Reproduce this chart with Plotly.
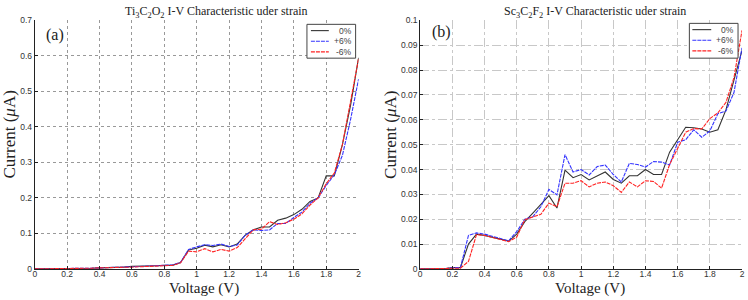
import plotly.graph_objects as go

voltage = [round(0.05 * i, 2) for i in range(41)]

# (a) Ti3C2O2
ti_0 = [0, 0, 0, 0, 0.001, 0.001, 0.002, 0.002, 0.003, 0.003, 0.004, 0.005,
        0.007, 0.007, 0.008, 0.009, 0.010, 0.010, 0.018, 0.053, 0.058, 0.067,
        0.062, 0.068, 0.062, 0.070, 0.095, 0.110, 0.118, 0.118, 0.137, 0.143,
        0.153, 0.168, 0.190, 0.200, 0.262, 0.262, 0.350, 0.460, 0.595]
ti_p6 = [0, 0, 0, 0, 0.001, 0.001, 0.002, 0.002, 0.003, 0.003, 0.004, 0.005,
         0.006, 0.007, 0.008, 0.010, 0.011, 0.011, 0.018, 0.055, 0.062, 0.068,
         0.066, 0.070, 0.063, 0.067, 0.095, 0.110, 0.108, 0.110, 0.128, 0.128,
         0.145, 0.160, 0.185, 0.200, 0.235, 0.265, 0.320, 0.420, 0.535]
ti_m6 = [0, 0, 0, 0, 0.001, 0.002, 0.002, 0.002, 0.003, 0.003, 0.003, 0.004,
         0.005, 0.006, 0.007, 0.008, 0.009, 0.010, 0.017, 0.050, 0.048, 0.057,
         0.048, 0.055, 0.050, 0.060, 0.085, 0.110, 0.112, 0.133, 0.125, 0.130,
         0.140, 0.155, 0.180, 0.200, 0.240, 0.270, 0.350, 0.470, 0.593]

# (b) Sc3C2F2
sc_0 = [0, 0, 0, 0, 0.0005, 0.0005, 0.0100, 0.0140, 0.0135, 0.0128, 0.0120,
        0.0112, 0.0140, 0.0190, 0.0225, 0.0260, 0.0295, 0.0245, 0.0398, 0.0367,
        0.0380, 0.0358, 0.0375, 0.0390, 0.0360, 0.0345, 0.0375, 0.0375, 0.0400,
        0.0380, 0.0380, 0.0470, 0.0520, 0.0570, 0.0568, 0.0563, 0.0550, 0.0560,
        0.0640, 0.0760, 0.0880]
sc_p6 = [0, 0, 0, 0, 0.0005, 0.0005, 0.0135, 0.0145, 0.0140, 0.0132, 0.0122,
         0.0113, 0.0150, 0.0200, 0.0210, 0.0250, 0.0320, 0.0298, 0.0460, 0.0390,
         0.0400, 0.0378, 0.0412, 0.0418, 0.0380, 0.0350, 0.0425, 0.0420, 0.0410,
         0.0432, 0.0430, 0.0418, 0.0510, 0.0520, 0.0560, 0.0530, 0.0555, 0.0625,
         0.0635, 0.0710, 0.0890]
sc_m6 = [0, 0, 0, 0, 0.0003, 0.0003, 0.0030, 0.0138, 0.0135, 0.0128, 0.0118,
         0.0110, 0.0128, 0.0198, 0.0208, 0.0220, 0.0265, 0.0250, 0.0345, 0.0345,
         0.0355, 0.0330, 0.0345, 0.0350, 0.0335, 0.0308, 0.0350, 0.0330, 0.0355,
         0.0352, 0.0325, 0.0420, 0.0485, 0.0550, 0.0565, 0.0563, 0.0605, 0.0628,
         0.0670, 0.0770, 0.0960]

names = ["0%", "+6%", "-6%"]
colors = ["#333333", "#3333ff", "#ff2222"]
dashes = ["solid", "4px,1px", "4px,1px"]

x_ticks = [0, 0.2, 0.4, 0.6, 0.8, 1, 1.2, 1.4, 1.6, 1.8, 2]
x_ticktext = ["0", "0.2", "0.4", "0.6", "0.8", "1", "1.2", "1.4", "1.6", "1.8", "2"]
ya_ticks = [0, 0.1, 0.2, 0.3, 0.4, 0.5, 0.6, 0.7]
ya_text = ["0", "0.1", "0.2", "0.3", "0.4", "0.5", "0.6", "0.7"]
yb_ticks = [0, 0.01, 0.02, 0.03, 0.04, 0.05, 0.06, 0.07, 0.08, 0.09, 0.1]
yb_text = ["0", "0.01", "0.02", "0.03", "0.04", "0.05", "0.06", "0.07", "0.08", "0.09", "0.1"]

W, H = 748, 300
def px(v):
    return v / W
def py(v):
    return 1 - v / H

fig = go.Figure()
for ys, n, c, d in zip([ti_0, ti_p6, ti_m6], names, colors, dashes):
    fig.add_trace(go.Scatter(x=voltage, y=ys, name=n, mode="lines",
                             line=dict(color=c, width=1.1, dash=d),
                             xaxis="x", yaxis="y", showlegend=False))
for ys, n, c, d in zip([sc_0, sc_p6, sc_m6], names, colors, dashes):
    fig.add_trace(go.Scatter(x=voltage, y=ys, name=n, mode="lines",
                             line=dict(color=c, width=1.1, dash=d),
                             xaxis="x2", yaxis="y2", showlegend=False))

tickfont = dict(family="Liberation Sans, Arial", size=8.5, color="#333")
common_x = dict(range=[0, 2], tickvals=x_ticks, ticktext=x_ticktext, tickfont=tickfont,
                showline=True, linecolor="#222", linewidth=1, ticks="inside", ticklen=3,
                tickcolor="#222", zeroline=False, mirror=False, ticklabelstandoff=-3)
fig.update_layout(
    width=W, height=H,
    margin=dict(l=0, r=0, t=0, b=0),
    paper_bgcolor="white", plot_bgcolor="white",
    showlegend=False,
    xaxis=dict(domain=[px(33), px(359)], anchor="y", showgrid=True, gridcolor="#999",
               griddash="dot", gridwidth=1, **common_x),
    yaxis=dict(domain=[py(273), py(16)], anchor="x", range=[0, 0.7], tickvals=ya_ticks,
               ticktext=ya_text, tickfont=tickfont, showline=True, linecolor="#222",
               linewidth=1, ticks="inside", ticklen=3, tickcolor="#222", zeroline=False,
               showgrid=True, gridcolor="#999", griddash="dot", gridwidth=1),
    xaxis2=dict(domain=[px(421), px(745)], anchor="y2", showgrid=True, gridcolor="#c8c8c8",
                griddash="dashdot", gridwidth=1, **common_x),
    yaxis2=dict(domain=[py(273), py(16)], anchor="x2", range=[0, 0.1], tickvals=yb_ticks,
                ticktext=yb_text, tickfont=tickfont, showline=True, linecolor="#222",
                linewidth=1, ticks="inside", ticklen=3, tickcolor="#222", zeroline=False,
                showgrid=True, gridcolor="#c8c8c8", griddash="dashdot", gridwidth=1),
)

serif = "Liberation Serif, Times New Roman, serif"
sans = "Liberation Sans, Arial"
ann = []
def text(t, x, y, size, family=serif, angle=0, xanchor="center", color="#222"):
    ann.append(dict(text=t, x=px(x), y=py(y), xref="paper", yref="paper", showarrow=False,
                    textangle=angle, font=dict(family=family, size=size, color=color),
                    xanchor=xanchor, yanchor="middle", borderpad=0))

text("Ti<sub>3</sub>C<sub>2</sub>O<sub>2</sub> I-V Characteristic uder strain", 216, 7, 12)
text("Sc<sub>3</sub>C<sub>2</sub>F<sub>2</sub> I-V Characteristic uder strain", 597, 7, 12)
text("Voltage (V)", 203, 293.5, 15)
text("Voltage (V)", 592, 293.5, 15)
text("Current (<i>μ</i>A)", 8, 134, 17, angle=-90)
text("Current (<i>μ</i>A)", 391, 134, 17, angle=-90)
text("(a)", 53, 31, 16)
text("(b)", 442, 28, 16)

# custom compact legends (box, sample lines, labels)
shapes = []
legend_boxes = [(307, 356, 20, 55, 311, 329, 353), (692, 741, 19, 55, 695, 714, 738)]
for (x0, x1, y0, y1, lx0, lx1, tx) in legend_boxes:
    shapes.append(dict(type="rect", xref="paper", yref="paper", x0=px(x0), x1=px(x1),
                       y0=py(y1), y1=py(y0), line=dict(color="#444", width=1),
                       fillcolor="white", layer="above"))
    for i, (n, c, d) in enumerate(zip(names, colors, dashes)):
        yy = y0 + 6.5 + i * 11
        shapes.append(dict(type="line", xref="paper", yref="paper", x0=px(lx0), x1=px(lx1),
                           y0=py(yy), y1=py(yy), line=dict(color=c, width=1.1, dash=d),
                           layer="above"))
        text(n, tx, yy, 8.5, family=sans, xanchor="right", color="#444")

fig.update_layout(annotations=ann, shapes=shapes)
fig.write_html("out.html")
